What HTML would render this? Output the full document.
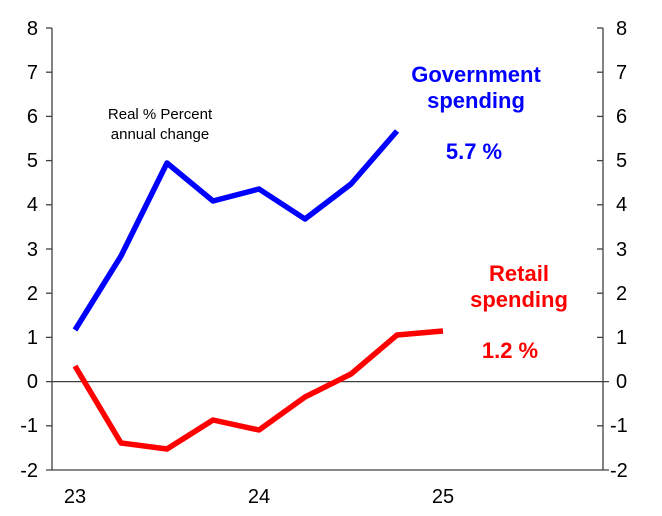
<!DOCTYPE html>
<html><head><meta charset="utf-8"><style>body{margin:0;background:#fff}</style></head><body>
<svg width="662" height="511" xmlns="http://www.w3.org/2000/svg" font-family="Liberation Sans, Arial, sans-serif">
<rect width="662" height="511" fill="#fff"/>
<g stroke="#404040" stroke-width="1.3" fill="none">
<line x1="52" y1="28" x2="52" y2="470"/>
<line x1="603" y1="28" x2="603" y2="470"/>
<line x1="46" y1="470" x2="609" y2="470"/>
<line x1="46" y1="381.6" x2="609" y2="381.6"/>
</g>
<g stroke="#404040" stroke-width="1.3">
<line x1="46" y1="28" x2="52" y2="28"/><line x1="46" y1="72.2" x2="52" y2="72.2"/><line x1="46" y1="116.4" x2="52" y2="116.4"/><line x1="46" y1="160.6" x2="52" y2="160.6"/><line x1="46" y1="204.8" x2="52" y2="204.8"/><line x1="46" y1="249" x2="52" y2="249"/><line x1="46" y1="293.2" x2="52" y2="293.2"/><line x1="46" y1="337.4" x2="52" y2="337.4"/><line x1="46" y1="425.8" x2="52" y2="425.8"/>
<line x1="597" y1="28" x2="603" y2="28"/><line x1="597" y1="72.2" x2="603" y2="72.2"/><line x1="597" y1="116.4" x2="603" y2="116.4"/><line x1="597" y1="160.6" x2="603" y2="160.6"/><line x1="597" y1="204.8" x2="603" y2="204.8"/><line x1="597" y1="249" x2="603" y2="249"/><line x1="597" y1="293.2" x2="603" y2="293.2"/><line x1="597" y1="337.4" x2="603" y2="337.4"/><line x1="597" y1="425.8" x2="603" y2="425.8"/>
</g>
<g font-size="20" fill="#000" text-anchor="end">
<text x="38" y="35">8</text><text x="38" y="79">7</text><text x="38" y="123">6</text><text x="38" y="167">5</text><text x="38" y="211">4</text><text x="38" y="256">3</text><text x="38" y="300">2</text><text x="38" y="344">1</text><text x="38" y="388">0</text><text x="38" y="432">-1</text><text x="38" y="477">-2</text>
</g>
<g font-size="20" fill="#000" text-anchor="start">
<text x="616" y="35">8</text><text x="616" y="79">7</text><text x="616" y="123">6</text><text x="616" y="167">5</text><text x="616" y="211">4</text><text x="616" y="256">3</text><text x="616" y="300">2</text><text x="616" y="344">1</text><text x="616" y="388">0</text><text x="610" y="432">-1</text><text x="610" y="477">-2</text>
</g>
<g font-size="20" fill="#000" text-anchor="middle">
<text x="75" y="503">23</text><text x="259" y="503">24</text><text x="443" y="503">25</text>
</g>
<polyline fill="none" stroke="#0000ff" stroke-width="5.5" stroke-linejoin="round" points="75,330 121,256 167,163 213,201 259,189 305,219 351,184 397,131"/>
<polyline fill="none" stroke="#ff0000" stroke-width="5.5" stroke-linejoin="round" points="75,366 121,443 167,449 213,420 259,430 305,397 351,374 397,335 443,331"/>
<text x="160" y="119" font-size="15" text-anchor="middle">Real % Percent</text>
<text x="160" y="139" font-size="15" text-anchor="middle">annual change</text>
<g font-size="22" font-weight="bold" fill="#0000ff" text-anchor="middle">
<text x="476" y="82">Government</text><text x="476" y="108">spending</text><text x="474" y="159">5.7 %</text>
</g>
<g font-size="22" font-weight="bold" fill="#ff0000" text-anchor="middle">
<text x="519" y="281">Retail</text><text x="519" y="307">spending</text><text x="510" y="358">1.2 %</text>
</g>
</svg>
</body></html>
